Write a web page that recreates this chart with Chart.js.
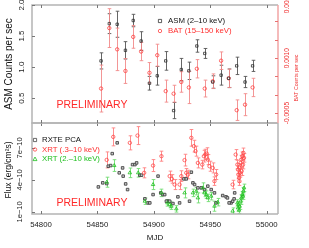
<!DOCTYPE html>
<html>
<head>
<meta charset="utf-8">
<script src="https://cdn.jsdelivr.net/npm/chart.js@4/dist/chart.umd.min.js"></script>
<style>
  body { margin: 0; background: #fff; }
  #wrap { position: relative; width: 309px; height: 248px; }
  #wrap canvas { position: absolute; left: 0; top: 0; }
</style>
</head>
<body>
<div id="wrap">
  <canvas id="lower" width="309" height="248"></canvas>
  <canvas id="upper" width="309" height="248"></canvas>
</div>
<script>
// --- top panel: ASM + BAT light curves (one point per week)
const asmMjd  = [54853.2, 54860.5, 54867.5, 54874.8, 54881.7, 54888.7, 54896.1, 54903.0, 54910.5, 54917.5,
                 54924.3, 54931.0, 54938.1, 54945.1, 54952.2, 54959.6, 54966.3, 54973.4, 54980.8, 54987.5];
const asmRate = [1.10, 1.70, 1.69, 1.27, 1.75, 1.42, 0.74, 0.86, 1.10, 0.30,
                 0.96, 0.94, 1.34, 1.22, 0.76, 0.87, 0.82, 1.02, 0.76, 1.02];
const asmErr  = [0.13, 0.16, 0.21, 0.14, 0.10, 0.15, 0.11, 0.15, 0.15, 0.13,
                 0.18, 0.14, 0.10, 0.08, 0.10, 0.16, 0.15, 0.14, 0.09, 0.09];
const batRate = [0.00017, 0.00182, 0.00124, 0.00065, 0.00158, 0.00118, 0.00060, 0.00108, 0.00010, 0.00003,
                 0.00035, 0.00020, 0.00071, 0.00017, 0.00037, 0.00093, 0.00045, -0.00042, -0.00027, 0.00020];
const batErr  = [0.00064, 0.00053, 0.00058, 0.00034, 0.00031, 0.00025, 0.00028, 0.00030, 0.00030, 0.00023,
                 0.00028, 0.00044, 0.00025, 0.00023, 0.00020, 0.00024, 0.00025, 0.00028, 0.00030, 0.00025];

// --- bottom panel: fluxes in units of 1e-10 erg/cm2/s
const pcaMjd  = [54850.8, 54854.7, 54858.2, 54859.6, 54861.7, 54863.1, 54867.5, 54869.3, 54872.8, 54875.0,
                 54876.7, 54872.3, 54881.1, 54883.2, 54884.7, 54887.6, 54889.1, 54892.0, 54894.9, 54896.4,
                 54903.7, 54899.3, 54906.1, 54908.1, 54912.5, 54909.6, 54911.1, 54914.0, 54916.9, 54921.3,
                 54922.8, 54926.6, 54928.7, 54931.6, 54933.2, 54934.6, 54936.1, 54939.0, 54942.0, 54944.9,
                 54947.8, 54950.8, 54953.7, 54955.2, 54961.0, 54964.0, 54968.4, 54969.8, 54965.2, 54966.7,
                 54971.6, 54971.1];
const pcaFlux = [3.34, 3.72, 3.65, 5.28, 5.34, 6.46, 7.47, 4.66, 4.35, 3.62,
                 3.09, 5.12, 5.43, 5.43, 5.59, 4.44, 4.44, 2.22, 1.84, 1.84,
                 4.35, 2.62, 2.78, 2.62, 2.00, 2.62, 2.00, 2.00, 1.78, 2.41,
                 1.84, 4.09, 4.09, 2.00, 4.72, 3.72, 3.56, 3.25, 3.25, 3.09,
                 3.41, 3.09, 2.78, 1.84, 2.53, 2.41, 1.84, 2.00, 2.31, 1.84,
                 2.78, 2.22];

const xrtSoftMjd  = [54858.2, 54864.0, 54878.7, 54885.5, 54891.4, 54899.3, 54906.7, 54914.0, 54916.0, 54918.4,
                     54922.8, 54924.3, 54927.2, 54928.7, 54930.2, 54933.2, 54935.4, 54936.9, 54939.0, 54942.9,
                     54944.3, 54945.5, 54946.9, 54947.8, 54949.3, 54952.2, 54953.7, 54955.2, 54969.8, 54972.5,
                     54974.0, 54974.6, 54974.9, 54975.5, 54975.8, 54976.0, 54976.9, 54977.5, 54978.4, 54979.3,
                     54979.9, 54979.0, 54977.8, 54976.4];
const xrtSoftFlux = [5.87, 8.03, 7.47, 8.15, 4.66, 5.34, 6.22, 4.35, 4.09, 3.56,
                     3.56, 4.35, 5.85, 4.66, 4.50, 7.94, 7.16, 6.69, 5.59, 5.43,
                     6.22, 6.37, 6.46, 5.90, 5.28, 5.12, 3.88, 4.50, 3.56, 6.37,
                     5.43, 4.96, 4.50, 4.19, 3.88, 5.12, 5.59, 5.90, 6.22, 6.53,
                     6.06, 5.43, 4.81, 4.66];
const xrtSoftErr  = [0.75, 0.84, 0.66, 0.84, 0.47, 0.56, 0.47, 0.47, 0.40, 0.47,
                     0.47, 0.50, 0.55, 0.40, 0.40, 0.78, 0.55, 0.47, 0.47, 0.40,
                     0.55, 0.50, 0.55, 0.47, 0.47, 0.47, 0.40, 0.47, 0.40, 0.47,
                     0.40, 0.40, 0.40, 0.40, 0.40, 0.40, 0.40, 0.40, 0.40, 0.45,
                     0.40, 0.40, 0.40, 0.40];

const xrtHardMjd  = [54858.2, 54864.9, 54878.7, 54886.1, 54892.0, 54899.3, 54906.7, 54912.0, 54914.0, 54915.5,
                     54919.9, 54927.2, 54934.6, 54937.6, 54939.0, 54943.4, 54944.9, 54946.4, 54947.8, 54950.8,
                     54953.7, 54956.6, 54969.8, 54974.0, 54974.6, 54975.5, 54976.0, 54976.9, 54978.4, 54979.3,
                     54979.9, 54977.5, 54979.0, 54974.9];
const xrtHardFlux = [3.78, 5.34, 4.66, 4.66, 2.00, 3.56, 2.78, 1.84, 1.68, 1.53,
                     1.28, 2.78, 2.78, 2.94, 2.31, 3.25, 2.78, 2.62, 2.31, 2.47,
                     1.53, 1.91, 1.07, 1.84, 1.37, 1.16, 1.53, 2.00, 2.62, 2.94,
                     3.25, 2.31, 2.47, 1.68];
const xrtHardErr  = [0.47, 0.55, 0.45, 0.40, 0.30, 0.47, 0.35, 0.30, 0.30, 0.30,
                     0.30, 0.47, 0.35, 0.35, 0.47, 0.47, 0.35, 0.35, 0.35, 0.35,
                     0.47, 0.35, 0.30, 0.30, 0.30, 0.30, 0.30, 0.30, 0.30, 0.35,
                     0.35, 0.30, 0.30, 0.30];

// ticks
const mjdTicks = [54800, 54850, 54900, 54950, 55000];
const asmTicks = [0.5, 1.0, 1.5, 2.0];
const asmTickLabels = ['0.5', '1.0', '1.5', '2.0'];
const batTicks = [-0.0005, 0.0010, 0.0025];
const batTickLabels = ['-0.0005', '0.0010', '0.0025'];
const batMinorTicks = [-0.0005, 0, 0.0005, 0.0010, 0.0015, 0.0020];
const fluxTicks = [1, 4, 7];
const fluxTickLabels = ['1e\u221210', '4e\u221210', '7e\u221210'];

const FONT = '"Liberation Sans", Arial, sans-serif';
const pts = (xs, ys) => xs.map((x, i) => ({ x: x, y: ys[i] }));

function vtext(ctx, s, x, y, size, color) {
  ctx.save();
  ctx.translate(x, y);
  ctx.rotate(-Math.PI / 2);
  ctx.font = size + 'px ' + FONT;
  ctx.fillStyle = color;
  ctx.textAlign = 'center';
  ctx.textBaseline = 'middle';
  ctx.fillText(s, 0, 0);
  ctx.restore();
}

function htext(ctx, s, x, y, size, color, align) {
  ctx.font = size + 'px ' + FONT;
  ctx.fillStyle = color;
  ctx.textAlign = align || 'left';
  ctx.textBaseline = 'middle';
  ctx.fillText(s, x, y);
}

function marker(ctx, style, x, y, color) {
  ctx.save();
  ctx.strokeStyle = color;
  ctx.lineWidth = 0.8;
  ctx.beginPath();
  if (style === 'rect') ctx.rect(x - 1.6, y - 1.6, 3.2, 3.2);
  else if (style === 'circle') ctx.arc(x, y, 1.7, 0, Math.PI * 2);
  else { ctx.moveTo(x, y - 2); ctx.lineTo(x + 2, y + 1.6); ctx.lineTo(x - 2, y + 1.6); ctx.closePath(); }
  ctx.stroke();
  ctx.restore();
}

// error bars drawn through each dataset's own scales
const errorBars = {
  id: 'errorBars',
  beforeDatasetsDraw(chart) {
    const ctx = chart.ctx, a = chart.chartArea;
    ctx.save();
    ctx.beginPath();
    ctx.rect(a.left, a.top, a.right - a.left, a.bottom - a.top);
    ctx.clip();
    chart.data.datasets.forEach(ds => {
      if (!ds.errors) return;
      const xs = chart.scales.x, ys = chart.scales[ds.yAxisID || 'y'];
      ctx.strokeStyle = ds.errorColor;
      ctx.lineWidth = 0.9;
      ds.data.forEach((p, j) => {
        const e = ds.errors[j];
        const px = Math.round(xs.getPixelForValue(p.x)) + 0.5;
        const y1 = ys.getPixelForValue(p.y - e), y2 = ys.getPixelForValue(p.y + e);
        ctx.beginPath();
        ctx.moveTo(px, y1); ctx.lineTo(px, y2);
        ctx.moveTo(px - 1.8, y1); ctx.lineTo(px + 1.8, y1);
        ctx.moveTo(px - 1.8, y2); ctx.lineTo(px + 1.8, y2);
        ctx.stroke();
      });
    });
    ctx.restore();
  }
};

function frame(ctx, a, rightColor) {
  ctx.save();
  ctx.lineWidth = 1.5;
  ctx.strokeStyle = '#b4b4b4';
  ctx.beginPath();
  ctx.moveTo(a.right, a.top); ctx.lineTo(a.left, a.top);
  ctx.lineTo(a.left, a.bottom); ctx.lineTo(a.right, a.bottom);
  ctx.stroke();
  ctx.strokeStyle = rightColor || '#b4b4b4';
  ctx.beginPath();
  ctx.moveTo(a.right, a.top); ctx.lineTo(a.right, a.bottom);
  ctx.stroke();
  ctx.restore();
}

function xTickMarks(chart) {
  const ctx = chart.ctx, a = chart.chartArea, sx = chart.scales.x;
  ctx.save();
  ctx.strokeStyle = '#777';
  ctx.lineWidth = 1;
  mjdTicks.forEach(v => {
    const px = Math.round(sx.getPixelForValue(v)) + 0.5;
    ctx.beginPath();
    ctx.moveTo(px, a.bottom); ctx.lineTo(px, a.bottom - 3);
    ctx.moveTo(px, a.top); ctx.lineTo(px, a.top + 3);
    ctx.stroke();
  });
  ctx.restore();
}

function yTickMarks(chart, scaleId, values, side, color) {
  const ctx = chart.ctx, a = chart.chartArea, sy = chart.scales[scaleId];
  ctx.save();
  ctx.strokeStyle = color;
  ctx.lineWidth = 1;
  values.forEach(v => {
    const py = Math.round(sy.getPixelForValue(v)) + 0.5;
    ctx.beginPath();
    if (side === 'left') { ctx.moveTo(a.left, py); ctx.lineTo(a.left + 3, py); }
    else { ctx.moveTo(a.right, py); ctx.lineTo(a.right - 3, py); }
    ctx.stroke();
  });
  ctx.restore();
}

const upperDecor = {
  id: 'upperDecor',
  afterDraw(chart) {
    const ctx = chart.ctx, a = chart.chartArea;
    frame(ctx, a, '#f2a4a4');
    xTickMarks(chart);
    yTickMarks(chart, 'y', asmTicks, 'left', '#777');
    yTickMarks(chart, 'bat', batMinorTicks, 'right', '#e87070');
    const sy = chart.scales.y, sb = chart.scales.bat;
    asmTicks.forEach((v, i) => vtext(ctx, asmTickLabels[i], 22, sy.getPixelForValue(v), 8, '#222'));
    batTicks.forEach((v, i) => vtext(ctx, batTickLabels[i], 287, sb.getPixelForValue(v), 6.6, '#f03030'));
    vtext(ctx, 'ASM Counts per sec', 9, (a.top + a.bottom) / 2, 10, '#111');
    vtext(ctx, 'BAT Counts per sec', 297, 78, 5.3, '#f03030');
    // legend
    marker(ctx, 'rect', 160, 21, '#333');
    htext(ctx, 'ASM (2\u201310 keV)', 168, 21, 7.8, '#111');
    marker(ctx, 'circle', 160, 31, '#ff4040');
    htext(ctx, 'BAT (15\u2013150 keV)', 168, 31, 7.8, '#ff3030');
    htext(ctx, 'PRELIMINARY', 92, 105.5, 10.5, '#ff2a2a', 'center');
  }
};

const lowerDecor = {
  id: 'lowerDecor',
  afterDraw(chart) {
    const ctx = chart.ctx, a = chart.chartArea, sx = chart.scales.x, sy = chart.scales.y;
    frame(ctx, a);
    xTickMarks(chart);
    yTickMarks(chart, 'y', fluxTicks, 'left', '#777');
    mjdTicks.forEach(v => htext(ctx, String(v), sx.getPixelForValue(v), 225, 7.8, '#222', 'center'));
    fluxTicks.forEach((v, i) => vtext(ctx, fluxTickLabels[i], 20, sy.getPixelForValue(v), 7.6, '#222'));
    htext(ctx, 'MJD', (a.left + a.right) / 2, 238, 8, '#111', 'center');
    vtext(ctx, 'Flux (erg/cm\u00b2s)', 9, 170, 8.5, '#111');
    marker(ctx, 'rect', 35, 140, '#444');
    htext(ctx, 'RXTE PCA', 42, 140, 7.8, '#111');
    marker(ctx, 'circle', 35, 149.5, '#ff4040');
    htext(ctx, 'XRT (.3\u201310 keV)', 42, 149.5, 7.8, '#ff3030');
    marker(ctx, 'triangle', 35, 159, '#20c020');
    htext(ctx, 'XRT (2.\u201310 keV)', 42, 159, 7.8, '#20c020');
    htext(ctx, 'PRELIMINARY', 92, 203, 10.5, '#ff2a2a', 'center');
  }
};

const xScale = { type: 'linear', display: false, min: 54792, max: 55010 };

new Chart(document.getElementById('upper'), {
  type: 'scatter',
  data: {
    datasets: [{
      label: 'ASM (2-10 keV)',
      data: pts(asmMjd, asmRate),
      errors: asmErr,
      errorColor: '#555',
      yAxisID: 'y',
      pointStyle: 'rect',
      pointRadius: 1.7,
      borderWidth: 0.8,
      borderColor: '#333',
      backgroundColor: 'rgba(0,0,0,0)'
    }, {
      label: 'BAT (15-150 keV)',
      data: pts(asmMjd, batRate),
      errors: batErr,
      errorColor: '#f28a8a',
      yAxisID: 'bat',
      pointStyle: 'circle',
      pointRadius: 1.7,
      borderWidth: 0.8,
      borderColor: '#ff4040',
      backgroundColor: 'rgba(0,0,0,0)'
    }]
  },
  options: {
    responsive: false,
    animation: false,
    layout: { padding: { left: 32, right: 31, top: 5, bottom: 125 } },
    scales: {
      x: xScale,
      y: { type: 'linear', display: false, min: 0.1, max: 2.0 },
      bat: { type: 'linear', position: 'right', display: false, min: -0.00077, max: 0.00245 }
    },
    plugins: { legend: { display: false }, tooltip: { enabled: false } }
  },
  plugins: [errorBars, upperDecor]
});

new Chart(document.getElementById('lower'), {
  type: 'scatter',
  data: {
    datasets: [{
      label: 'XRT (.3-10 keV)',
      data: pts(xrtSoftMjd, xrtSoftFlux),
      errors: xrtSoftErr,
      errorColor: '#ff8080',
      pointStyle: 'circle',
      pointRadius: 1.7,
      borderWidth: 0.8,
      borderColor: '#ff4848',
      backgroundColor: 'rgba(0,0,0,0)'
    }, {
      label: 'XRT (2.-10 keV)',
      data: pts(xrtHardMjd, xrtHardFlux),
      errors: xrtHardErr,
      errorColor: '#70dd70',
      pointStyle: 'triangle',
      pointRadius: 2,
      borderWidth: 0.8,
      borderColor: '#20c020',
      backgroundColor: 'rgba(0,0,0,0)'
    }, {
      label: 'RXTE PCA',
      data: pts(pcaMjd, pcaFlux),
      pointStyle: 'rect',
      pointRadius: 1.8,
      borderWidth: 0.9,
      borderColor: '#444',
      backgroundColor: '#c8c8c8'
    }]
  },
  options: {
    responsive: false,
    animation: false,
    layout: { padding: { left: 32, right: 31, top: 123, bottom: 34 } },
    scales: {
      x: xScale,
      y: { type: 'linear', display: false, min: 0.8, max: 9.33 }
    },
    plugins: { legend: { display: false }, tooltip: { enabled: false } }
  },
  plugins: [errorBars, lowerDecor]
});
</script>
</body>
</html>
